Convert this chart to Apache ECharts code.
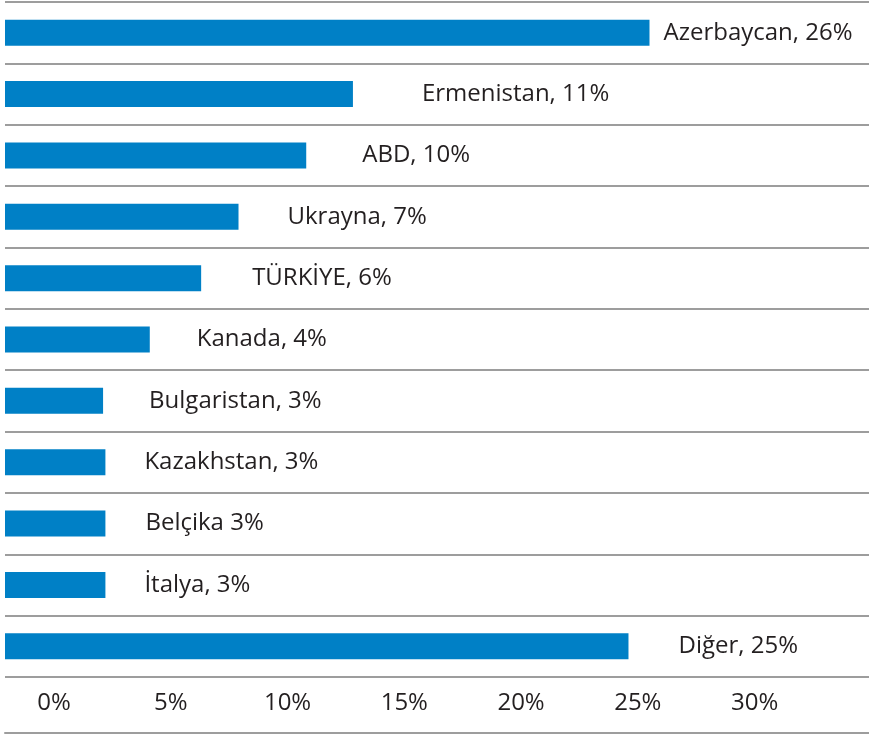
<!DOCTYPE html>
<html>
<head>
<meta charset="utf-8">
<script src="https://cdn.jsdelivr.net/npm/echarts@6/dist/echarts.min.js"></script>
<style>
  html, body { margin: 0; padding: 0; background: #fff; }
  #chart { width: 869px; height: 734px; }
</style>
</head>
<body>
<div id="chart"></div>
<script>
// Ülkeler (yukarıdan aşağıya)
var ulkeler = ["Azerbaycan", "Ermenistan", "ABD", "Ukrayna", "TÜRKİYE", "Kanada",
  "Bulgaristan", "Kazakhstan", "Belçika", "İtalya", "Diğer"];
// Çubuk uzunlukları (%)
var degerler = [25.5, 12.8, 10.8, 7.9, 6.3, 4.1, 2.1, 2.2, 2.2, 2.2, 24.6];
// Etiket metinleri
var etiketler = ["Azerbaycan, 26%", "Ermenistan, 11%", "ABD, 10%", "Ukrayna, 7%",
  "TÜRKİYE, 6%", "Kanada, 4%", "Bulgaristan, 3%", "Kazakhstan, 3%",
  "Belçika 3%", "İtalya, 3%", "Diğer, 25%"];
// Eksen etiketleri
var eksenDegerleri = [0, 5, 10, 15, 20, 25, 30];

// etiket ile çubuk arası boşluk (stil)
var etiketBosluk = [14, 69, 56, 49, 51, 47, 46, 39, 40, 39, 50];

var yazi = '"Open Sans", sans-serif';
var yaziRenk = "#231f20";
var cizgiRenk = "#9d9d9d";

var veri = degerler.map(function (v, i) {
  return {
    value: v,
    label: { distance: etiketBosluk[i], formatter: etiketler[i] }
  };
});

var grafik = echarts.init(document.getElementById("chart"));
grafik.setOption({
  animation: false,
  grid: { left: 5, right: 0, top: 2, bottom: 57, containLabel: false },
  xAxis: [
    {
      type: "value",
      min: -2.1,
      max: 34.9,
      startValue: -2.1,
      axisLine: { show: false },
      axisTick: { show: false },
      splitLine: { show: false },
      axisLabel: {
        customValues: eksenDegerleri,
        formatter: "{value}%",
        fontFamily: yazi,
        fontSize: 24,
        color: yaziRenk,
        margin: 14
      }
    },
    {
      type: "value",
      position: "bottom",
      offset: 56,
      min: -2.1,
      max: 34.9,
      axisLine: { show: true, lineStyle: { color: cizgiRenk, width: 2 } },
      axisTick: { show: false },
      axisLabel: { show: false },
      splitLine: { show: false }
    }
  ],
  yAxis: {
    type: "category",
    inverse: true,
    data: ulkeler,
    axisLine: { show: false },
    axisTick: { show: false },
    axisLabel: { show: false },
    splitLine: { show: true, lineStyle: { color: cizgiRenk, width: 2 } }
  },
  series: [{
    type: "bar",
    xAxisIndex: 0,
    data: veri,
    barWidth: 26,
    itemStyle: { color: "#0080c6" },
    label: {
      show: true,
      position: "right",
      fontFamily: yazi,
      fontSize: 24,
      color: yaziRenk
    }
  }]
});
</script>
</body>
</html>
